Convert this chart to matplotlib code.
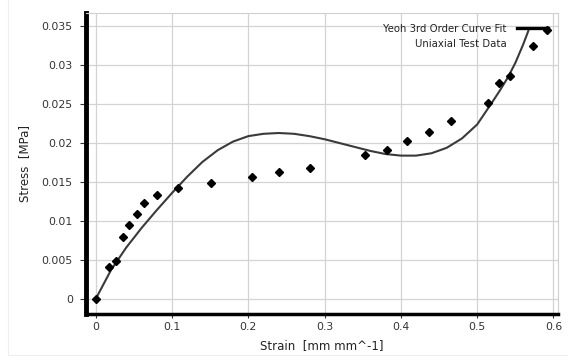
import matplotlib
matplotlib.use("Agg")
import matplotlib.pyplot as plt
from matplotlib.lines import Line2D
from matplotlib.patches import Rectangle

# Uniaxial test data
test_strain = [0.0, 0.017, 0.0266, 0.0354, 0.044, 0.0541, 0.0629, 0.0807, 0.1075,
               0.1511, 0.2045, 0.2405, 0.2809, 0.353, 0.3813, 0.4076, 0.4372, 0.4655,
               0.5146, 0.5286, 0.543, 0.5735, 0.5919]
test_stress = [0.0, 0.0041, 0.0049, 0.0080, 0.0095, 0.0109, 0.01236, 0.01335, 0.01428,
               0.01493, 0.0157, 0.0163, 0.01685, 0.01844, 0.01912, 0.02032, 0.02143, 0.0228,
               0.02512, 0.02768, 0.02866, 0.03247, 0.03452]

# Yeoh 3rd order curve fit
fit_strain = [0.0, 0.02, 0.04, 0.06, 0.08, 0.10, 0.12, 0.14, 0.16, 0.18, 0.20, 0.22,
              0.24, 0.26, 0.28, 0.30, 0.32, 0.34, 0.36, 0.38, 0.40, 0.42, 0.44, 0.46,
              0.48, 0.50, 0.52, 0.53, 0.54, 0.55, 0.56, 0.567]
fit_stress = [0.0, 0.0037, 0.0066, 0.0091, 0.0114, 0.0136, 0.0157, 0.0176, 0.0191,
              0.0202, 0.0209, 0.0212, 0.0213, 0.0212, 0.0209, 0.0205, 0.0200, 0.0195,
              0.0190, 0.0186, 0.0184, 0.0184, 0.0187, 0.0194, 0.0206, 0.0224, 0.0253,
              0.0268, 0.0284, 0.0303, 0.0326, 0.0344]

x_ticks = [0, 0.1, 0.2, 0.3, 0.4, 0.5, 0.6]
x_tick_labels = ["0", "0.1", "0.2", "0.3", "0.4", "0.5", "0.6"]
y_ticks = [0, 0.005, 0.01, 0.015, 0.02, 0.025, 0.03, 0.035]
y_tick_labels = ["0", "0.005", "0.01", "0.015", "0.02", "0.025", "0.03", "0.035"]

legend_labels = ["Yeoh 3rd Order Curve Fit", "Uniaxial Test Data"]
x_label = "Strain  [mm mm^-1]"
y_label = "Stress  [MPa]"

fig = plt.figure(figsize=(5.68, 3.58), dpi=100)
ax = fig.add_axes([86 / 568, 1 - 313.5 / 358, (558 - 86) / 568, (313.5 - 13) / 358])

ax.plot(fit_strain, fit_stress, color="#3a3a3a", lw=1.5, zorder=3,
        solid_joinstyle="round")
ax.plot(test_strain, test_stress, linestyle="none", marker="D", markersize=4.3,
        color="black", zorder=4)

ax.set_xlim(-0.0127, 0.6059)
ax.set_ylim(-0.00186, 0.0367)
ax.set_xticks(x_ticks)
ax.set_xticklabels(x_tick_labels)
ax.set_yticks(y_ticks)
ax.set_yticklabels(y_tick_labels)

ax.grid(True, color="#d3d3d3", lw=0.9)
ax.set_axisbelow(True)

for s in ("top", "right"):
    ax.spines[s].set_color("#d0d0d0")
    ax.spines[s].set_linewidth(0.8)
ax.spines["left"].set_linewidth(3.5)
ax.spines["left"].set_color("black")
ax.spines["bottom"].set_linewidth(2.5)
ax.spines["bottom"].set_color("black")

ax.tick_params(axis="both", direction="out", length=3, width=0.8, color="#333333",
               labelcolor="#333333", labelsize=7.8)
ax.tick_params(axis="y", length=4.5, pad=5)
ax.tick_params(axis="x", pad=3)

ax.set_xlabel(x_label, fontsize=8.5, color="#222222", labelpad=5)
ax.set_ylabel(y_label, fontsize=8.5, color="#222222", labelpad=7.5)

h1 = Line2D([], [], color="black", lw=2.4)
h2 = Line2D([], [], linestyle="none")
leg = ax.legend([h1, h2], legend_labels, loc="upper right",
                bbox_to_anchor=(0.979, 0.965), frameon=False, markerfirst=False,
                handlelength=3.1, handletextpad=1.0, borderpad=0, borderaxespad=0,
                labelspacing=0.5, fontsize=7.3)
for t in leg.get_texts():
    t.set_color("#222222")

fig.add_artist(Rectangle((8 / 568, 3 / 358), 1.2, 1.2, transform=fig.transFigure,
                         fill=False, edgecolor="#eeeeee", lw=0.8))

fig.savefig("out.png", dpi=100)
